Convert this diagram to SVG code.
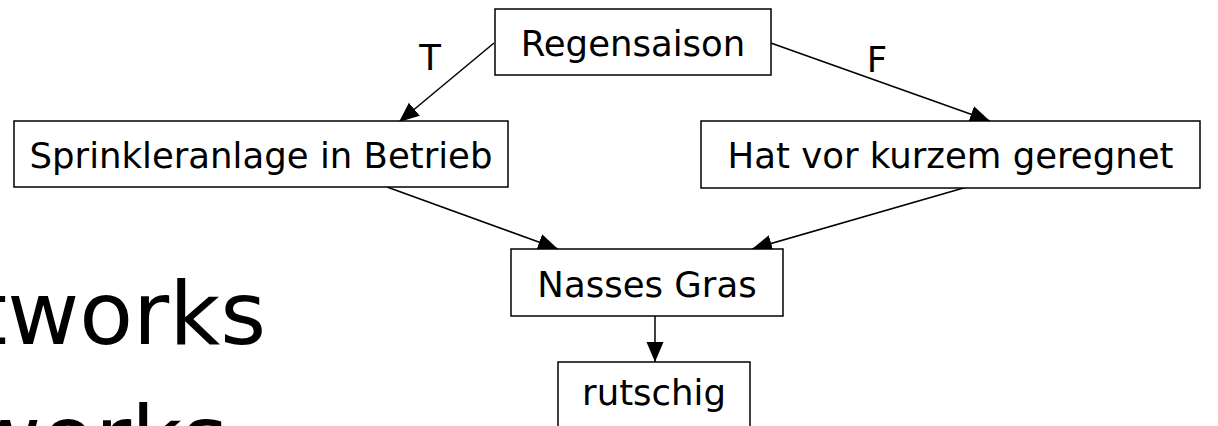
<svg xmlns="http://www.w3.org/2000/svg" width="1218" height="426" viewBox="0 0 1218 426">
<style>
  .box { fill: #ffffff; stroke: #000000; stroke-width: 1.5; }
  .lbl { font-family: "DejaVu Sans", Verdana, sans-serif; font-size: 35.5px; fill: #000000; text-anchor: middle; }
  .bg { font-family: "DejaVu Sans", Verdana, sans-serif; font-size: 88px; fill: #000000; text-anchor: end; }
  .edge { stroke: #000000; stroke-width: 1.5; fill: none; marker-end: url(#arrow); }
</style>
<defs>
  <marker id="arrow" markerUnits="userSpaceOnUse" markerWidth="21" markerHeight="20" viewBox="0 0 21 20" refX="20" refY="10" orient="auto">
    <path d="M0,1.5 L20,10 L0,18.5 Z" fill="#000000"/>
  </marker>
</defs>
<g id="background-text">
  <text class="bg" x="266" y="344">tworks</text>
  <text class="bg" x="228" y="468">works</text>
</g>
<g id="connectors">
  <line class="edge" x1="494" y1="43" x2="399" y2="122"/>
  <line class="edge" x1="768" y1="42" x2="990" y2="121"/>
  <line class="edge" x1="387" y1="187" x2="558" y2="249"/>
  <line class="edge" x1="967" y1="187" x2="752" y2="249"/>
  <line class="edge" x1="655" y1="316" x2="655" y2="362"/>
  <text class="lbl" x="430" y="70">T</text>
  <text class="lbl" x="877" y="72">F</text>
</g>
<g id="node-regensaison">
  <rect class="box" x="495" y="9" width="276" height="66"/>
  <text class="lbl" x="633" y="56">Regensaison</text>
</g>
<g id="node-sprinkler">
  <rect class="box" x="14" y="121" width="494" height="66"/>
  <text class="lbl" x="261" y="168">Sprinkleranlage in Betrieb</text>
</g>
<g id="node-geregnet">
  <rect class="box" x="701" y="121" width="499" height="67"/>
  <text class="lbl" x="950.5" y="168">Hat vor kurzem geregnet</text>
</g>
<g id="node-nasses-gras">
  <rect class="box" x="511" y="249" width="272" height="67"/>
  <text class="lbl" x="647" y="297">Nasses Gras</text>
</g>
<g id="node-rutschig">
  <rect class="box" x="558" y="362" width="192" height="72"/>
  <text class="lbl" x="654" y="405">rutschig</text>
</g>
</svg>
